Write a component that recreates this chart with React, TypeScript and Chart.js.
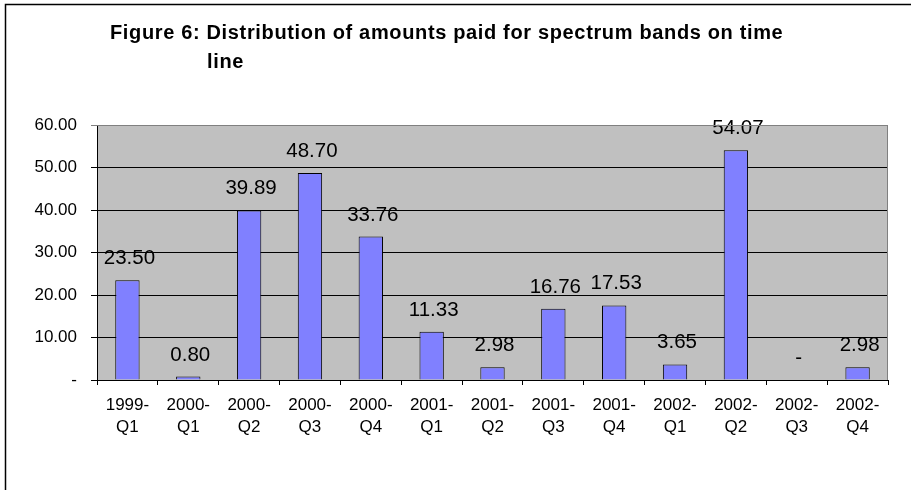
import React, { useEffect, useRef } from "react";
import { Chart, registerables } from "chart.js";

Chart.register(...registerables);

const categories: string[][] = [
  ["1999-", "Q1"], ["2000-", "Q1"], ["2000-", "Q2"], ["2000-", "Q3"], ["2000-", "Q4"],
  ["2001-", "Q1"], ["2001-", "Q2"], ["2001-", "Q3"], ["2001-", "Q4"],
  ["2002-", "Q1"], ["2002-", "Q2"], ["2002-", "Q3"], ["2002-", "Q4"],
];
const amounts: number[] = [23.5, 0.8, 39.89, 48.7, 33.76, 11.33, 2.98, 16.76, 17.53, 3.65, 54.07, 0, 2.98];
const titleLines: string[] = ["Figure 6: Distribution of amounts paid for spectrum bands on time", "line"];
const yMin = 0;
const yMax = 60;
const yStep = 10;

const FONT = "'Liberation Sans', Arial, sans-serif";

const fmt = (v: number) => (v === 0 ? "-" : v.toFixed(2));

const framePlugin = {
  id: "frame",
  beforeDraw(chart: any) {
    const { ctx, chartArea: a } = chart;
    ctx.save();
    ctx.fillStyle = "#ffffff";
    ctx.fillRect(0, 0, chart.width, chart.height);
    ctx.strokeStyle = "#000000";
    ctx.lineWidth = 1.5;
    ctx.beginPath();
    ctx.moveTo(5.5, chart.height);
    ctx.lineTo(5.5, 4.5);
    ctx.lineTo(chart.width, 4.5);
    ctx.stroke();
    ctx.fillStyle = "#C0C0C0";
    ctx.fillRect(a.left, a.top, a.right - a.left, a.bottom - a.top);
    // title
    ctx.fillStyle = "#000000";
    ctx.font = `bold 20px ${FONT}`;
    (ctx as any).letterSpacing = "0.65px";
    ctx.textBaseline = "alphabetic";
    ctx.textAlign = "left";
    ctx.fillText(titleLines[0], 110, 39);
    ctx.fillText(titleLines[1], 207, 68);
    (ctx as any).letterSpacing = "0px";
    ctx.restore();
  },
  afterDraw(chart: any) {
    const { ctx, chartArea: a } = chart;
    ctx.save();
    ctx.strokeStyle = "#808080";
    ctx.lineWidth = 1;
    ctx.beginPath();
    ctx.moveTo(a.left, a.top + 0.5);
    ctx.lineTo(a.right - 0.5, a.top + 0.5);
    ctx.lineTo(a.right - 0.5, a.bottom);
    ctx.stroke();
    ctx.restore();
  },
};

const labelPlugin = {
  id: "barLabels",
  afterDatasetsDraw(chart: any) {
    const { ctx } = chart;
    const meta = chart.getDatasetMeta(0);
    ctx.save();
    ctx.fillStyle = "#000000";
    ctx.font = `20.5px ${FONT}`;
    ctx.textAlign = "center";
    ctx.textBaseline = "alphabetic";
    meta.data.forEach((bar: any, i: number) => {
      const v = amounts[i];
      ctx.fillText(fmt(v), bar.x + 2, bar.y - 16);
    });
    ctx.restore();
  },
};

export default function App() {
  const ref = useRef<HTMLCanvasElement>(null);
  useEffect(() => {
    if (!ref.current) return;
    const chart = new Chart(ref.current, {
      type: "bar",
      data: {
        labels: categories,
        datasets: [
          {
            data: amounts,
            backgroundColor: "#8080FF",
            borderColor: "#000000",
            borderWidth: 1,
            borderSkipped: "start",
            categoryPercentage: 1,
            barPercentage: 0.4,
          },
        ],
      },
      options: {
        animation: false,
        responsive: false,
        layout: { padding: { left: 0, top: 125, right: 23, bottom: 0 } },
        plugins: { legend: { display: false }, tooltip: { enabled: false }, title: { display: false } },
        scales: {
          x: {
            afterFit: (s: any) => { s.height = 110; },
            grid: { offset: true, drawOnChartArea: false, drawTicks: true, tickLength: 5, color: "#000000" },
            border: { color: "#000000", width: 1 },
            ticks: {
              color: "#000000",
              font: { family: FONT, size: 17, lineHeight: 1.3 },
              padding: 9,
              maxRotation: 0,
              autoSkip: false,
            },
          },
          y: {
            min: yMin,
            max: yMax,
            afterFit: (s: any) => { s.width = 97; },
            grid: {
              color: (c: any) => (c.tick && c.tick.value === yMax ? "#808080" : "#000000"),
              tickLength: 6,
              lineWidth: 1,
            },
            border: { color: "#000000", width: 1 },
            ticks: {
              stepSize: yStep,
              color: "#000000",
              padding: 14,
              font: { family: FONT, size: 17 },
              callback: (v: any) => fmt(Number(v)),
            },
          },
        },
      },
      plugins: [framePlugin, labelPlugin],
    });
    return () => chart.destroy();
  }, []);
  return (
    <div style={{ position: "fixed", left: 0, top: 0, width: 911, height: 490, background: "#fff" }}>
      <canvas ref={ref} width={911} height={490} style={{ display: "block" }} />
    </div>
  );
}
